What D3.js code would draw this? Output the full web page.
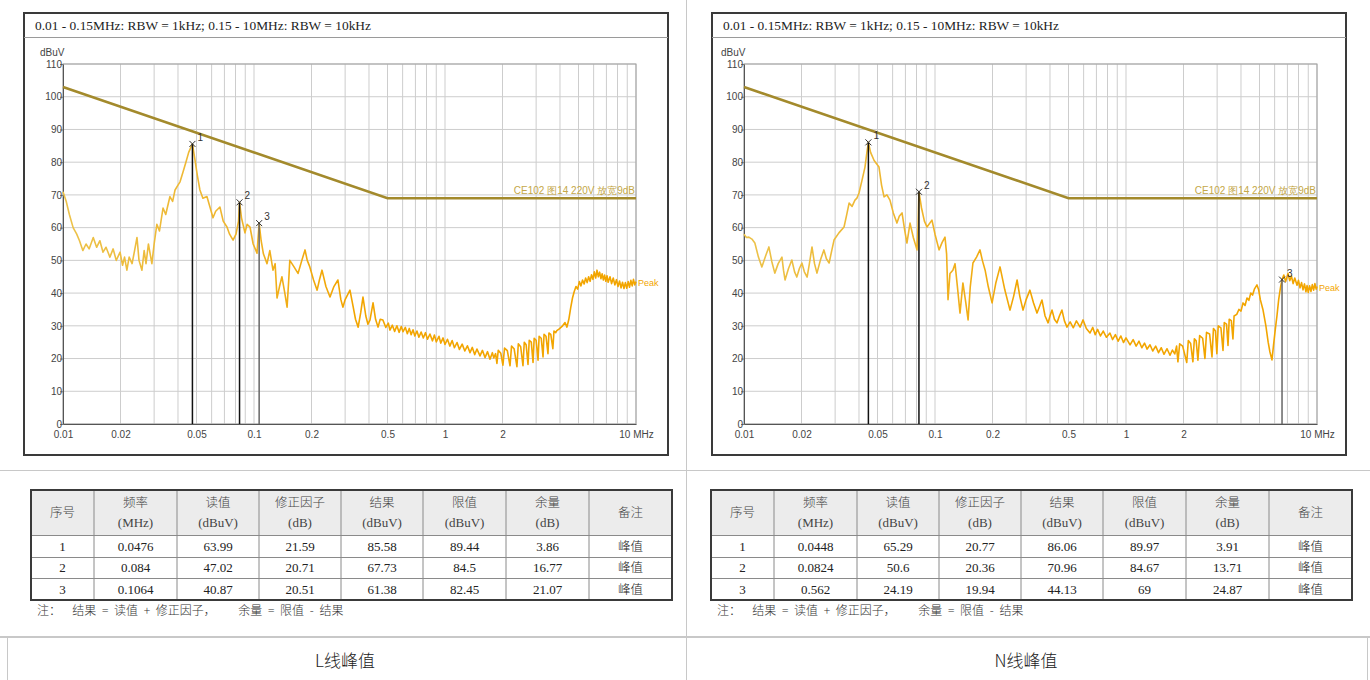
<!DOCTYPE html>
<html>
<head>
<meta charset="utf-8">
<script src="https://cdn.jsdelivr.net/npm/d3@7"></script>
<style>
  body { margin: 0; background: #fff; }
  svg text { font-family: "Liberation Sans", Arial, sans-serif; }
</style>
</head>
<body>
<svg id="page" width="1370" height="680"></svg>
<script>
// ---- data ----
const titleText = '0.01 - 0.15MHz: RBW = 1kHz; 0.15 - 10MHz: RBW = 10kHz';
const xTickValues = [0.01, 0.02, 0.05, 0.1, 0.2, 0.5, 1, 2, 10];
const yTickValues = [0, 10, 20, 30, 40, 50, 60, 70, 80, 90, 100, 110];
const limitFreqs = [0.01, 0.5, 10];
const limitLevels = [103, 69, 69];
const limitName = 'CE102 图14 220V 放宽9dB';

// L line peak trace [MHz, dBuV]
const lTrace = [
  [0.0100, 71], [0.0104, 68], [0.0108, 64], [0.0113, 60], [0.0118, 58], [0.0122, 56], [0.0127, 53],
  [0.0132, 55], [0.0137, 53.5], [0.0144, 57], [0.0150, 54], [0.0156, 56], [0.0162, 52.5], [0.0168, 54],
  [0.0176, 51], [0.0183, 53.5], [0.0190, 50], [0.0199, 52.5], [0.0205, 48.5], [0.0210, 51], [0.0216, 47],
  [0.0222, 51], [0.0230, 49], [0.0237, 53], [0.0244, 57], [0.0250, 50], [0.0259, 47], [0.0266, 53],
  [0.0272, 49], [0.0280, 55], [0.0292, 49], [0.0300, 55], [0.0310, 61], [0.0320, 59], [0.0334, 66],
  [0.0345, 64], [0.0363, 69.5], [0.0375, 68], [0.0386, 71.5], [0.0400, 73], [0.0410, 74], [0.0425, 77],
  [0.0440, 80], [0.0455, 83], [0.0476, 85.58], [0.0490, 81], [0.0505, 76], [0.0521, 71.5], [0.0540, 69],
  [0.0567, 69.5], [0.0590, 66], [0.0610, 63], [0.0630, 65], [0.0663, 66.3], [0.0690, 62], [0.0722, 60.2],
  [0.0745, 58], [0.0777, 56.2], [0.0805, 58], [0.0830, 62], [0.0840, 67.73], [0.0860, 63], [0.0897, 58.4],
  [0.0920, 61], [0.0953, 60.2], [0.0990, 55], [0.1037, 52.2], [0.1064, 61.38], [0.1090, 56], [0.1120, 52],
  [0.117, 49], [0.121, 53], [0.1257, 47], [0.129, 49], [0.132, 38.5], [0.136, 42], [0.140, 45], [0.145, 40],
  [0.149, 35.7], [0.152, 44], [0.154, 50], [0.162, 48], [0.170, 46], [0.178, 50], [0.185, 53.2], [0.190, 50],
  [0.196, 48], [0.205, 44], [0.214, 40.9], [0.220, 44], [0.227, 47], [0.238, 42], [0.250, 38.8], [0.262, 42],
  [0.275, 44], [0.285, 38], [0.292, 35.7], [0.300, 38], [0.318, 40.9], [0.330, 36], [0.340, 32], [0.351, 29.6],
  [0.362, 34], [0.372, 38.8], [0.385, 33], [0.395, 30.5], [0.405, 31.8], [0.420, 37], [0.433, 32], [0.446, 29.6],
  [0.458, 32], [0.473, 31.8], [0.490, 29.5], [0.505, 30.8], [0.515, 28.7], [0.53, 30.2], [0.545, 28.3],
  [0.56, 30], [0.575, 28], [0.59, 29.8], [0.603, 28.2], [0.62, 29.5], [0.635, 27.6], [0.65, 29.2], [0.665, 27.3],
  [0.68, 28.8], [0.695, 26.9], [0.713, 28.4], [0.73, 26.5], [0.75, 28.1], [0.77, 26.3], [0.79, 27.9],
  [0.81, 25.9], [0.834, 27.5], [0.86, 25.4], [0.88, 27.2], [0.90, 25.1], [0.93, 26.8], [0.95, 24.7],
  [0.977, 26.3], [1.00, 24.3], [1.03, 25.9], [1.06, 23.8], [1.09, 25.5], [1.12, 23.3], [1.156, 24.9],
  [1.19, 22.8], [1.23, 24.4], [1.27, 22.3], [1.31, 23.9], [1.352, 21.8], [1.39, 23.4], [1.43, 21.2],
  [1.47, 22.9], [1.525, 20.8], [1.57, 22.5], [1.62, 20.3], [1.67, 22.1], [1.72, 19.8], [1.77, 21.8],
  [1.80, 20.2], [1.84, 21.5], [1.87, 18.5], [1.90, 22.5], [1.96, 21.6], [2.01, 18], [2.05, 23.2], [2.12, 22.4],
  [2.19, 17.8], [2.23, 23.8], [2.30, 23], [2.38, 17.5], [2.42, 24.5], [2.49, 23.6], [2.56, 17.8], [2.60, 25],
  [2.66, 24.2], [2.72, 18.2], [2.76, 25.6], [2.83, 25], [2.89, 18.8], [2.93, 26.2], [3.00, 25.6], [3.07, 19.5],
  [3.11, 26.8], [3.19, 26.2], [3.26, 20.5], [3.30, 27.4], [3.38, 26.8], [3.46, 21.5], [3.50, 27.8],
  [3.58, 27.4], [3.67, 23], [3.72, 28.4], [3.80, 27.9], [3.85, 28.5], [3.95, 29], [4.10, 29.8], [4.25, 31],
  [4.35, 29.6], [4.45, 32], [4.55, 35.5], [4.65, 38.5], [4.75, 40.5], [4.85, 42], [4.95, 41.2], [5.05, 43.5],
  [5.15, 42.2], [5.25, 44], [5.35, 42.8], [5.45, 44.6], [5.55, 43.2], [5.65, 45], [5.75, 43.6], [5.85, 45.6],
  [5.95, 44.2], [6.05, 46.5], [6.15, 44.6], [6.25, 47], [6.35, 45], [6.45, 46.4], [6.55, 44.4], [6.65, 45.9],
  [6.75, 44], [6.85, 45.5], [6.95, 43.6], [7.05, 45.3], [7.15, 43.3], [7.31, 45], [7.45, 42.9], [7.6, 44.6],
  [7.75, 42.5], [7.9, 44.1], [8.05, 42], [8.2, 43.7], [8.35, 41.6], [8.5, 43.3], [8.65, 41.4], [8.8, 43.2],
  [8.95, 41.5], [9.1, 43.5], [9.25, 41.8], [9.4, 43.9], [9.55, 42.2], [9.7, 44.2], [9.85, 42.5], [10, 43.5]
];

// N line peak trace [MHz, dBuV]
const nTrace = [
  [0.0100, 58], [0.0103, 57], [0.0106, 57.1], [0.0110, 56.5], [0.0114, 55.3], [0.0119, 51], [0.0124, 48],
  [0.0130, 51.5], [0.0135, 54.1], [0.0140, 49.5], [0.0145, 46.1], [0.0151, 49], [0.0158, 51], [0.0161, 47],
  [0.0164, 44], [0.0171, 47.5], [0.0178, 50.1], [0.0184, 46.5], [0.0189, 44.9], [0.0195, 47.5], [0.0201, 49.2],
  [0.0207, 46.5], [0.0214, 44.9], [0.0220, 49], [0.0227, 54.1], [0.0234, 49], [0.0241, 46.1], [0.0251, 50],
  [0.0262, 53.2], [0.0270, 50.5], [0.0279, 49.2], [0.0288, 53], [0.0296, 56.2], [0.0314, 58.4], [0.0334, 60.2],
  [0.0345, 64], [0.0355, 67.5], [0.0368, 66.5], [0.0381, 68.4], [0.0390, 69], [0.0400, 70.6], [0.0415, 74.5],
  [0.0430, 78.5], [0.0440, 83], [0.0448, 86.06], [0.0460, 83], [0.0480, 80.5], [0.0509, 78.5], [0.0525, 73],
  [0.0541, 69.4], [0.0560, 70], [0.0581, 68.4], [0.0605, 64.5], [0.0632, 61.4], [0.0650, 63.5], [0.0672, 64.5],
  [0.0695, 59], [0.0713, 55.3], [0.0740, 61.4], [0.0770, 57], [0.0805, 53.2], [0.0815, 60], [0.0824, 70.96],
  [0.0850, 66], [0.0880, 62], [0.0908, 60.2], [0.0964, 62.3], [0.1000, 58], [0.1050, 53.2], [0.1090, 55.5],
  [0.1128, 57.1], [0.1150, 52], [0.117, 38], [0.1198, 46], [0.124, 47], [0.1273, 49], [0.131, 42],
  [0.1352, 33.9], [0.140, 43.1], [0.145, 37], [0.149, 31.8], [0.153, 42], [0.158, 49.2], [0.165, 51],
  [0.172, 53.2], [0.177, 50], [0.183, 47], [0.190, 42], [0.199, 37], [0.208, 43], [0.219, 48], [0.232, 41],
  [0.247, 34.8], [0.258, 39], [0.269, 44], [0.278, 39], [0.289, 34.8], [0.300, 38], [0.314, 40.9], [0.328, 37],
  [0.342, 33.9], [0.353, 36], [0.363, 37.9], [0.377, 33], [0.391, 30.9], [0.400, 33], [0.410, 34.8],
  [0.422, 32], [0.435, 30.9], [0.448, 33], [0.462, 34.8], [0.476, 31.5], [0.491, 29.6], [0.51, 31.2],
  [0.53, 29.4], [0.55, 31.5], [0.575, 29.6], [0.596, 31.8], [0.62, 29.2], [0.648, 27.8], [0.67, 29.5],
  [0.69, 27.3], [0.71, 28.9], [0.735, 26.9], [0.76, 28.4], [0.79, 26.5], [0.824, 27.8], [0.85, 25.8],
  [0.88, 27.3], [0.91, 25.3], [0.94, 26.9], [0.97, 24.9], [1.00, 26.3], [1.05, 24.2], [1.09, 25.8],
  [1.13, 23.8], [1.17, 25.3], [1.21, 23.3], [1.25, 24.7], [1.29, 22.9], [1.336, 24.2], [1.38, 22.3],
  [1.43, 23.8], [1.48, 21.8], [1.53, 23.3], [1.58, 21.3], [1.64, 23], [1.70, 21], [1.75, 22.6], [1.80, 21.4],
  [1.84, 23.8], [1.87, 19], [1.91, 24.5], [1.98, 23.8], [2.08, 18.8], [2.12, 25.5], [2.18, 24.6], [2.24, 19],
  [2.28, 26], [2.33, 25.4], [2.38, 19.5], [2.43, 27], [2.52, 26.2], [2.59, 20], [2.64, 28], [2.74, 27.5],
  [2.82, 20.5], [2.87, 29.2], [2.94, 28.4], [2.99, 21.5], [3.04, 30], [3.14, 29.4], [3.22, 22.5], [3.27, 31],
  [3.36, 30.5], [3.42, 24], [3.47, 32], [3.56, 31.6], [3.63, 26], [3.68, 33], [3.80, 33.5], [3.90, 35],
  [4.00, 34.5], [4.10, 37], [4.20, 36.2], [4.30, 38.5], [4.40, 37.8], [4.50, 40], [4.60, 39.4], [4.70, 41.2],
  [4.85, 42.5], [4.95, 41], [5.05, 38], [5.21, 35], [5.40, 30], [5.55, 25], [5.67, 22], [5.81, 19.6],
  [5.92, 24], [6.05, 29], [6.17, 33], [6.30, 38], [6.45, 42], [6.56, 44.1], [6.70, 45.5], [6.85, 43.5],
  [7.05, 46], [7.2, 43.8], [7.35, 45.2], [7.5, 42.9], [7.65, 44.6], [7.86, 42.4], [8.0, 43.9], [8.15, 41.6],
  [8.3, 43.2], [8.45, 41], [8.6, 42.8], [8.75, 40.4], [8.87, 42.3], [9.0, 40.2], [9.15, 42.2], [9.3, 40.5],
  [9.45, 42.6], [9.6, 40.9], [9.75, 42.9], [9.9, 41.2], [10, 42]
];

// peak markers (position as drawn on the plot)
const lMarkerFreqs = [0.0476, 0.084, 0.1064];
const lMarkerLevels = [85.58, 67.73, 61.38];
const nMarkerFreqs = [0.0448, 0.0824, 6.56];
const nMarkerLevels = [86.06, 70.96, 44.13];

// result tables
const tableHead = [['序号'], ['频率', '(MHz)'], ['读值', '(dBuV)'], ['修正因子', '(dB)'],
  ['结果', '(dBuV)'], ['限值', '(dBuV)'], ['余量', '(dB)'], ['备注']];
const lRows = [
  ['1', '0.0476', '63.99', '21.59', '85.58', '89.44', '3.86', '峰值'],
  ['2', '0.084', '47.02', '20.71', '67.73', '84.5', '16.77', '峰值'],
  ['3', '0.1064', '40.87', '20.51', '61.38', '82.45', '21.07', '峰值']
];
const nRows = [
  ['1', '0.0448', '65.29', '20.77', '86.06', '89.97', '3.91', '峰值'],
  ['2', '0.0824', '50.6', '20.36', '70.96', '84.67', '13.71', '峰值'],
  ['3', '0.562', '24.19', '19.94', '44.13', '69', '24.87', '峰值']
];
const noteText = '注：  结果 = 读值 + 修正因子，    余量 = 限值 - 结果';
const captions = ['L线峰值', 'N线峰值'];

// ---- drawing ----
const svg = d3.select('#page');
const traceColor = '#f2a500';
const limitColor = '#a38a2c';
const serif = '"Liberation Serif", "Times New Roman", serif';
const cjk = '"Noto Sans CJK SC", sans-serif';
const isCjk = (s) => /[\u4e00-\u9fff]/.test(s);

// page table lines
let pageLines = svg.append('g').attr('stroke', '#c8c8c8').attr('stroke-width', 1);
pageLines.append('line').attr('x1', 686.5).attr('x2', 686.5).attr('y1', 0).attr('y2', 680);
pageLines.append('line').attr('x1', 0).attr('x2', 1370).attr('y1', 470.5).attr('y2', 470.5);
pageLines.append('line').attr('x1', 0).attr('x2', 1370).attr('y1', 637).attr('y2', 637).attr('stroke-width', 2);
pageLines.append('line').attr('x1', 7.5).attr('x2', 7.5).attr('y1', 637).attr('y2', 680);
pageLines.append('line').attr('x1', 1367.5).attr('x2', 1367.5).attr('y1', 637).attr('y2', 680);

let defs = svg.append('defs');

function drawPanel(cfg) {
  let g = svg.append('g');

  // frame + title bar
  g.append('rect')
    .attr('x', cfg.fx).attr('y', 13)
    .attr('width', cfg.fw).attr('height', 442)
    .attr('fill', '#fff').attr('stroke', '#3a3a3a').attr('stroke-width', 2);
  g.append('line')
    .attr('x1', cfg.fx).attr('x2', cfg.fx + cfg.fw)
    .attr('y1', 37.5).attr('y2', 37.5)
    .attr('stroke', '#9a9a9a');
  g.append('text')
    .attr('x', cfg.fx + 11).attr('y', 30)
    .style('font-family', serif)
    .style('font-size', '13.4px')
    .attr('fill', '#222')
    .text(titleText);

  let x = d3.scaleLog().domain([0.01, 10]).range([cfg.px0, cfg.px1]);
  let y = d3.scaleLinear().domain([0, 110]).range([424, 64]);

  // grid
  g.append('g')
    .selectAll('line')
    .data(x.ticks())
    .enter()
    .append('line')
    .attr('x1', (d) => x(d)).attr('x2', (d) => x(d))
    .attr('y1', 64).attr('y2', 424)
    .attr('stroke', '#cdcdcd');
  g.append('g')
    .selectAll('line')
    .data(yTickValues)
    .enter()
    .append('line')
    .attr('x1', cfg.px0).attr('x2', cfg.px1)
    .attr('y1', (d) => y(d)).attr('y2', (d) => y(d))
    .attr('stroke', '#cdcdcd');
  g.append('rect')
    .attr('x', cfg.px0).attr('y', 64)
    .attr('width', cfg.px1 - cfg.px0).attr('height', 360)
    .attr('fill', 'none').attr('stroke', '#a0a0a0');

  // axes
  let yAxis = g.append('g')
    .attr('transform', `translate(${cfg.px0},0)`)
    .call(d3.axisLeft(y).tickValues(yTickValues).tickSize(3).tickSizeOuter(0));
  yAxis.select('.domain').attr('stroke', '#555');
  yAxis.selectAll('line').attr('stroke', '#777');
  yAxis.selectAll('text').attr('x', -1).attr('fill', '#444').style('font-size', '10px');

  let xAxis = g.append('g')
    .attr('transform', 'translate(0,424)')
    .call(d3.axisBottom(x).tickValues(xTickValues).tickSize(0).tickSizeOuter(0)
      .tickFormat((d) => (d === 10 ? '10 MHz' : String(d))));
  xAxis.select('.domain').attr('stroke', '#555');
  xAxis.selectAll('text').attr('y', 7).attr('fill', '#444').style('font-size', '10px');

  g.append('text')
    .attr('x', cfg.px0 - 23).attr('y', 56)
    .attr('fill', '#444').style('font-size', '10px')
    .text('dBuV');

  // limit line
  let limitData = limitFreqs.map((f, i) => [f, limitLevels[i]]);
  let line = d3.line().x((d) => x(d[0])).y((d) => y(d[1]));
  g.append('path')
    .attr('d', line(limitData))
    .attr('fill', 'none').attr('stroke', limitColor).attr('stroke-width', 2.6);
  g.append('text')
    .attr('x', cfg.px1 - 1).attr('y', y(69) - 4)
    .attr('text-anchor', 'end')
    .attr('fill', '#c4a748').style('font-size', '10px')
    .text(limitName);

  // trace colour: pale where the sweep is thin, deeper orange where it is dense
  let gradId = 'trace-' + cfg.px0;
  let grad = defs.append('linearGradient')
    .attr('id', gradId)
    .attr('gradientUnits', 'userSpaceOnUse')
    .attr('x1', x(0.01)).attr('x2', x(0.3)).attr('y1', 0).attr('y2', 0);
  grad.append('stop').attr('offset', 0).attr('stop-color', '#ecc24a');
  grad.append('stop').attr('offset', 0.6).attr('stop-color', '#efb52c');
  grad.append('stop').attr('offset', 1).attr('stop-color', traceColor);

  g.append('path')
    .attr('d', line(cfg.trace))
    .attr('fill', 'none').attr('stroke', `url(#${gradId})`).attr('stroke-width', 1.6)
    .attr('stroke-linejoin', 'round');
  let last = cfg.trace[cfg.trace.length - 1];
  g.append('text')
    .attr('x', cfg.px1 + 2).attr('y', y(last[1]) + 4)
    .attr('fill', traceColor).style('font-size', '9px')
    .text('Peak');

  // markers
  cfg.markerFreqs.forEach((f, i) => {
    let mx = x(f);
    let my = y(cfg.markerLevels[i]);
    g.append('line')
      .attr('x1', mx).attr('x2', mx).attr('y1', my).attr('y2', 424)
      .attr('stroke', i === 2 ? '#666' : '#111').attr('stroke-width', 1.5);
    g.append('path')
      .attr('d', `M${mx - 3},${my - 3}L${mx + 3},${my + 3}M${mx - 3},${my + 3}L${mx + 3},${my - 3}`)
      .attr('stroke', '#333').attr('stroke-width', 1);
    g.append('text')
      .attr('x', mx + 5).attr('y', my - 3)
      .attr('fill', '#333').style('font-size', '10px')
      .text(i + 1);
  });
}

function cellText(g, s, cx, cy, color) {
  g.append('text')
    .attr('x', cx).attr('y', cy)
    .attr('text-anchor', 'middle')
    .attr('fill', color)
    .style('font-family', isCjk(s) ? cjk : serif)
    .style('font-weight', isCjk(s) ? 300 : 400)
    .style('font-size', isCjk(s) ? '12.5px' : '13px')
    .text(s);
}

function drawTable(tx, rows) {
  let colEdges = [0, 63, 146, 228, 310, 392, 475, 558, 641];
  let rowEdges = [490, 535, 557, 578, 600];
  let g = svg.append('g');

  g.append('rect')
    .attr('x', tx).attr('y', rowEdges[0])
    .attr('width', 641).attr('height', rowEdges[1] - rowEdges[0])
    .attr('fill', '#ececec');

  // inner lines
  g.selectAll('.vline')
    .data(colEdges.slice(1, -1))
    .enter()
    .append('line')
    .attr('x1', (d) => tx + d).attr('x2', (d) => tx + d)
    .attr('y1', rowEdges[0]).attr('y2', rowEdges[4])
    .attr('stroke', '#8a8a8a');
  g.selectAll('.hline')
    .data(rowEdges.slice(1, -1))
    .enter()
    .append('line')
    .attr('x1', tx).attr('x2', tx + 641)
    .attr('y1', (d) => d + 0.5).attr('y2', (d) => d + 0.5)
    .attr('stroke', '#8a8a8a');
  g.append('rect')
    .attr('x', tx).attr('y', rowEdges[0])
    .attr('width', 641).attr('height', rowEdges[4] - rowEdges[0])
    .attr('fill', 'none').attr('stroke', '#3a3a3a').attr('stroke-width', 2);

  // header
  tableHead.forEach((lines, c) => {
    let cx = tx + (colEdges[c] + colEdges[c + 1]) / 2;
    if (lines.length === 1) {
      cellText(g, lines[0], cx, 517, '#444');
    } else {
      cellText(g, lines[0], cx, 507, '#444');
      cellText(g, lines[1], cx, 527, '#444');
    }
  });

  // rows
  rows.forEach((row, r) => {
    row.forEach((cell, c) => {
      cellText(g, cell, tx + (colEdges[c] + colEdges[c + 1]) / 2,
        (rowEdges[r + 1] + rowEdges[r + 2]) / 2 + 4.5, '#222');
    });
  });

  g.append('text')
    .attr('x', tx + 6).attr('y', 615)
    .attr('fill', '#333')
    .style('font-family', cjk)
    .style('font-weight', 300)
    .style('font-size', '12px')
    .style('white-space', 'pre')
    .style('word-spacing', '3px')
    .text(noteText);
}

drawPanel({ fx: 24, fw: 644, px0: 63, px1: 636, trace: lTrace,
  markerFreqs: lMarkerFreqs, markerLevels: lMarkerLevels });
drawPanel({ fx: 712, fw: 634, px0: 744, px1: 1317, trace: nTrace,
  markerFreqs: nMarkerFreqs, markerLevels: nMarkerLevels });

drawTable(31, lRows);
drawTable(711, nRows);

svg.selectAll('.caption')
  .data(captions)
  .enter()
  .append('text')
  .attr('class', 'caption')
  .attr('x', (d, i) => (i === 0 ? 345 : 1026))
  .attr('y', 667)
  .attr('text-anchor', 'middle')
  .attr('fill', '#222')
  .style('font-family', cjk)
  .style('font-weight', 300)
  .style('font-size', '17px')
  .text((d) => d);
</script>
</body>
</html>
